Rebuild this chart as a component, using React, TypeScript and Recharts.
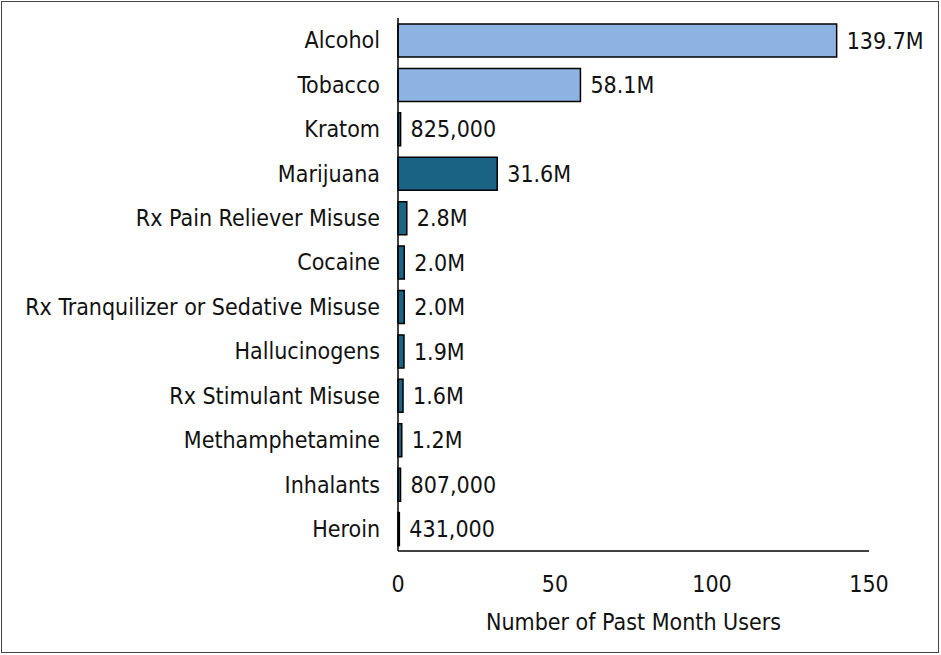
import { BarChart, Bar, XAxis, YAxis, Cell, LabelList } from 'recharts';

const SUBSTANCES = [
  'Alcohol',
  'Tobacco',
  'Kratom',
  'Marijuana',
  'Rx Pain Reliever Misuse',
  'Cocaine',
  'Rx Tranquilizer or Sedative Misuse',
  'Hallucinogens',
  'Rx Stimulant Misuse',
  'Methamphetamine',
  'Inhalants',
  'Heroin',
];

// millions of past month users
const USERS = [139.7, 58.1, 0.825, 31.6, 2.8, 2.0, 2.0, 1.9, 1.6, 1.2, 0.807, 0.431];

const VALUE_LABELS = [
  '139.7M',
  '58.1M',
  '825,000',
  '31.6M',
  '2.8M',
  '2.0M',
  '2.0M',
  '1.9M',
  '1.6M',
  '1.2M',
  '807,000',
  '431,000',
];

const GROUP = ['legal', 'legal', 'other', 'illicit', 'illicit', 'illicit', 'illicit', 'illicit', 'illicit', 'illicit', 'illicit', 'illicit'];

const X_TICKS = [0, 50, 100, 150];

const COLOURS: Record<string, string> = {
  legal: '#8DB3E2',
  other: '#1B6384',
  illicit: '#1B6384',
};

const FONT = '"DejaVu Sans Condensed", "Liberation Sans", sans-serif';
const FONT_SIZE = 23;

const data = SUBSTANCES.map((name, i) => ({
  name,
  users: USERS[i],
  label: VALUE_LABELS[i],
  group: GROUP[i],
}));

export default function App() {
  return (
    <div style={{ position: 'absolute', top: 0, left: 0, width: 941, height: 655, background: '#fff' }}>
      <div
        style={{
          position: 'absolute',
          top: 1,
          left: 1,
          width: 936,
          height: 650,
          border: '1.5px solid #444',
        }}
      />
      <BarChart
        width={941}
        height={655}
        data={data}
        layout="vertical"
        margin={{ top: 18, right: 72, bottom: 0, left: 0 }}
        barSize={33}
        style={{ fontFamily: FONT, position: 'absolute', top: 0, left: 0 }}
      >
        <XAxis
          type="number"
          domain={[0, 150]}
          ticks={X_TICKS}
          height={104}
          tickLine={false}
          tickSize={0}
          tickMargin={25}
          axisLine={{ stroke: '#000', strokeWidth: 1.5 }}
          tick={{ fill: '#111', fontSize: FONT_SIZE }}
          label={{
            value: 'Number of Past Month Users',
            position: 'insideBottom',
            offset: 25,
            fill: '#111',
            fontSize: FONT_SIZE,
          }}
        />
        <YAxis
          type="category"
          dataKey="name"
          width={398}
          tickLine={false}
          tickSize={0}
          tickMargin={18}
          interval={0}
          axisLine={{ stroke: '#000', strokeWidth: 1.5 }}
          tick={{ fill: '#111', fontSize: FONT_SIZE }}
        />
        <Bar dataKey="users" stroke="#000" strokeWidth={1.5} isAnimationActive={false}>
          {data.map((d) => (
            <Cell key={d.name} fill={COLOURS[d.group]} />
          ))}
          <LabelList dataKey="label" position="right" offset={10} fill="#111" fontSize={FONT_SIZE} />
        </Bar>
      </BarChart>
    </div>
  );
}
